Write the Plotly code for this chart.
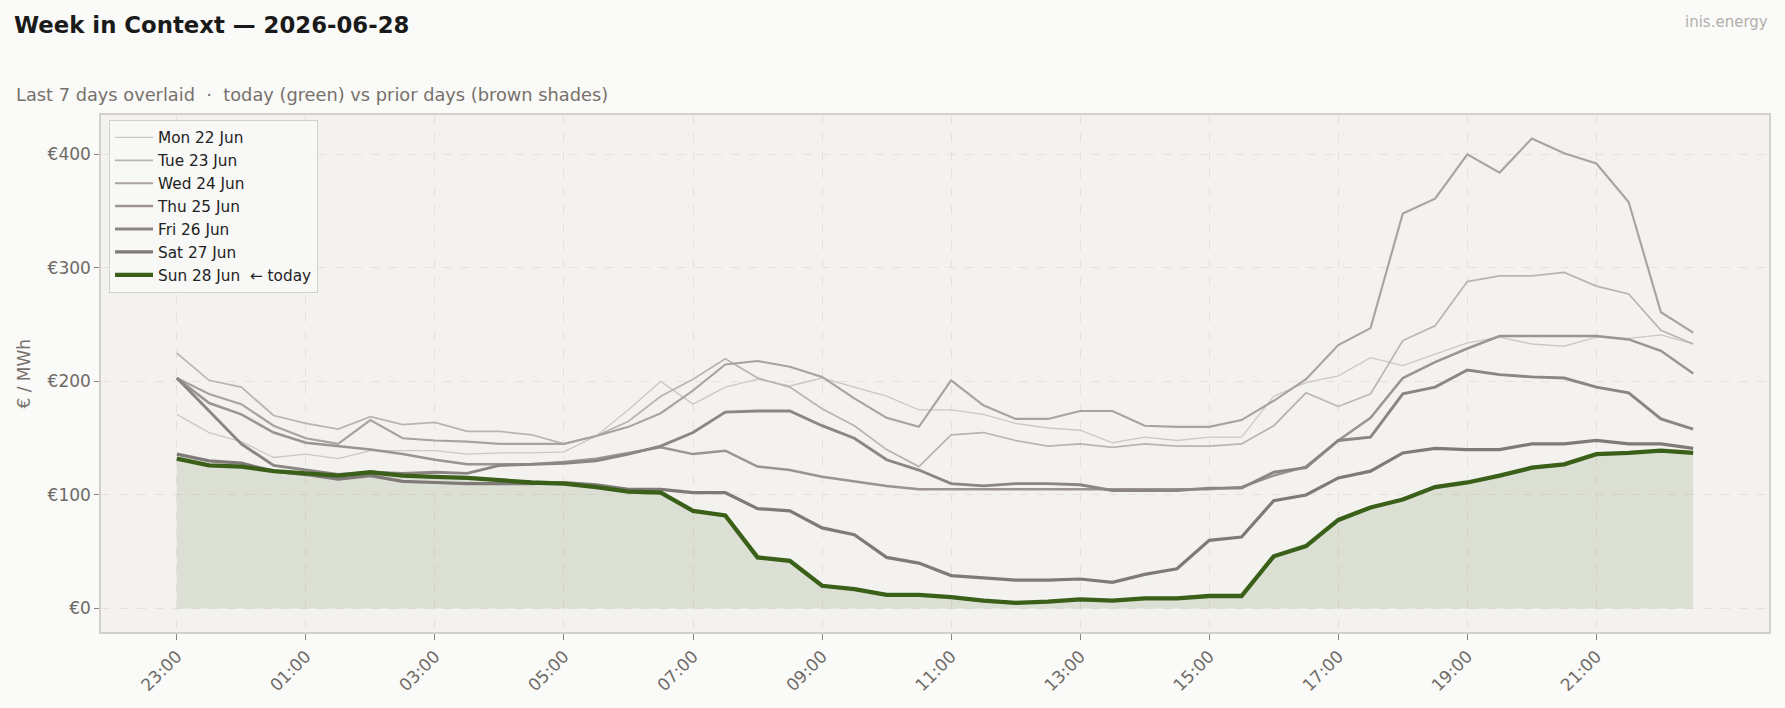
import pandas as pd
import plotly.graph_objects as go

# ---------------- data ----------------
start_time = "2026-06-27 23:00"
n_points = 48
times = pd.date_range(start_time, periods=n_points, freq="30min")

day_names = ["Mon 22 Jun", "Tue 23 Jun", "Wed 24 Jun", "Thu 25 Jun",
             "Fri 26 Jun", "Sat 27 Jun"]
today_name = "Sun 28 Jun \u00a0\u2190 today"

mon = [171, 155, 147, 133, 136, 132, 139, 139, 139, 136,
       137, 137, 138, 152, 175, 200, 180, 195, 202, 196,
       203, 195, 187, 175, 175, 171, 163, 159, 157, 146,
       151, 148, 151, 151, 187, 199, 205, 221, 214, 224,
       234, 239, 233, 231, 239, 238, 241, 233]
tue = [225, 201, 195, 170, 163, 158, 169, 162, 164, 156,
       156, 153, 145, 152, 165, 187, 202, 220, 203, 195,
       176, 161, 140, 125, 153, 155, 148, 143, 145, 142,
       145, 143, 143, 145, 161, 190, 178, 189, 236, 249,
       288, 293, 293, 296, 284, 277, 245, 233]
wed = [203, 189, 180, 161, 150, 145, 166, 150, 148, 147,
       145, 145, 145, 152, 160, 172, 192, 215, 218, 213,
       204, 185, 168, 160, 201, 179, 167, 167, 174, 174,
       161, 160, 160, 166, 183, 202, 232, 247, 348, 361,
       400, 384, 414, 401, 392, 358, 261, 243]
thu = [203, 181, 171, 155, 146, 143, 140, 136, 131, 127,
       127, 127, 129, 132, 137, 142, 136, 139, 125, 122,
       116, 112, 108, 105, 105, 105, 105, 105, 105, 105,
       105, 105, 105, 107, 117, 125, 148, 168, 203, 217,
       229, 240, 240, 240, 240, 237, 227, 207]
fri = [203, 174, 145, 126, 122, 118, 120, 119, 120, 119,
       126, 127, 128, 130, 136, 143, 155, 173, 174, 174,
       161, 150, 131, 122, 110, 108, 110, 110, 109, 104,
       104, 104, 106, 106, 120, 124, 148, 151, 189, 195,
       210, 206, 204, 203, 195, 190, 167, 158]
sat = [136, 130, 128, 121, 118, 114, 117, 112, 111, 110,
       110, 110, 111, 109, 105, 105, 102, 102, 88, 86,
       71, 65, 45, 40, 29, 27, 25, 25, 26, 23,
       30, 35, 60, 63, 95, 100, 115, 121, 137, 141,
       140, 140, 145, 145, 148, 145, 145, 141]
sun = [132, 126, 125, 121, 119, 117, 120, 117, 116, 115,
       113, 111, 110, 107, 103, 102, 86, 82, 45, 42,
       20, 17, 12, 12, 10, 7, 5, 6, 8, 7,
       9, 9, 11, 11, 46, 55, 78, 89, 96, 107,
       111, 117, 124, 127, 136, 137, 139, 137]

prior_days = [mon, tue, wed, thu, fri, sat]
y_tick_values = [0, 100, 200, 300, 400]
y_tick_labels = ["\u20ac" + str(v) for v in y_tick_values]
x_tick_values = list(times[::4])
x_tick_labels = [t.strftime("%H:%M") for t in x_tick_values]

# ---------------- styles ----------------
FONT = "DejaVu Sans"
prior_colors = ["#cdc8c4", "#bab4b0", "#a9a29f", "#9b9491", "#8b8583", "#7f7a78"]
prior_widths = [1.3, 1.7, 2.1, 2.5, 2.9, 3.2]
sun_color = "#3a5f18"
tick_color = "#6e6a66"
spine_color = "#d3cfca"
grid_color = "#e5e2dd"

fig = go.Figure()

# shaded area under today's line
fig.add_trace(go.Scatter(
    x=times, y=sun, mode="lines", fill="tozeroy",
    fillcolor="rgba(58,95,24,0.12)", line=dict(width=0, color="rgba(0,0,0,0)"),
    showlegend=False, hoverinfo="skip"))

for name, vals, col, w in zip(day_names, prior_days, prior_colors, prior_widths):
    fig.add_trace(go.Scatter(x=times, y=vals, mode="lines", name=name,
                             line=dict(color=col, width=w)))

fig.add_trace(go.Scatter(x=times, y=sun, mode="lines", name=today_name,
                         line=dict(color=sun_color, width=4.3)))

# axis ranges with 5% margins
step = pd.Timedelta(minutes=30)
x_pad = step * (n_points - 1) * 0.05
x_range = [str(times[0] - x_pad), str(times[-1] + x_pad)]
y_max = max(max(v) for v in prior_days + [sun])
y_pad = y_max * 0.05
y_range = [-y_pad, y_max + y_pad]

W, H = 1785, 708
ML, MR, MT, MB = 101, 16, 115, 76
PW, PH = W - ML - MR, H - MT - MB

def px_x(px):
    return (px - ML) / PW

def px_y(py):
    return 1 - (py - MT) / PH

fig.update_layout(
    width=W, height=H,
    margin=dict(l=ML, r=MR, t=MT, b=MB, pad=0),
    paper_bgcolor="#fafaf8",
    plot_bgcolor="#f3f2ee",
    font=dict(family=FONT, color=tick_color, size=16),
    title=dict(text="<b>Week in Context \u2014 2026-06-28</b>",
               font=dict(family=FONT, size=22.8, color="#1a1a1a"),
               x=14 / W, xanchor="left", xref="container",
               y=1 - 25 / H, yanchor="middle", yref="container"),
    legend=dict(x=px_x(109), y=px_y(120), xanchor="left", yanchor="top",
                bgcolor="#f8f8f6", bordercolor=spine_color, borderwidth=1,
                font=dict(family=FONT, size=15.3, color="#222222"),
                itemwidth=38, traceorder="normal"),
    showlegend=True,
)

fig.update_xaxes(
    type="date", range=x_range,
    tickmode="array", tickvals=x_tick_values, ticktext=x_tick_labels,
    tickangle=-45, ticks="outside", ticklen=6, tickwidth=1.2, tickcolor="#8a8580",
    tickfont=dict(family=FONT, size=17, color=tick_color),
    showgrid=True, gridcolor=grid_color, griddash="dash", gridwidth=0.7,
    showline=True, mirror=True, linecolor=spine_color, linewidth=1.5,
    zeroline=False,
)
fig.update_yaxes(
    range=y_range, tickmode="array", tickvals=y_tick_values, ticktext=y_tick_labels,
    ticks="outside", ticklen=5, tickwidth=1.2, tickcolor="#8a8580",
    tickfont=dict(family=FONT, size=17, color=tick_color),
    showgrid=True, gridcolor=grid_color, griddash="dash", gridwidth=0.7,
    showline=True, mirror=True, linecolor=spine_color, linewidth=1.5,
    zeroline=False,
)

fig.add_annotation(
    text="Last 7 days overlaid \u00a0\u00b7\u00a0 today (green) vs prior days (brown shades)",
    xref="paper", yref="paper", x=px_x(14), y=px_y(94.5),
    xanchor="left", yanchor="middle", showarrow=False,
    font=dict(family=FONT, size=17.8, color="#77716c"))
fig.add_annotation(
    text="inis.energy", xref="paper", yref="paper",
    x=px_x(1770), y=px_y(21.6), xanchor="right", yanchor="middle",
    showarrow=False, font=dict(family=FONT, size=15, color="#b3afab"))
fig.add_annotation(
    text="\u20ac / MWh", xref="paper", yref="paper",
    x=px_x(23), y=0.5, xanchor="center", yanchor="middle", textangle=-90,
    showarrow=False, font=dict(family=FONT, size=17, color="#77716c"))

fig.write_html("out.html")
